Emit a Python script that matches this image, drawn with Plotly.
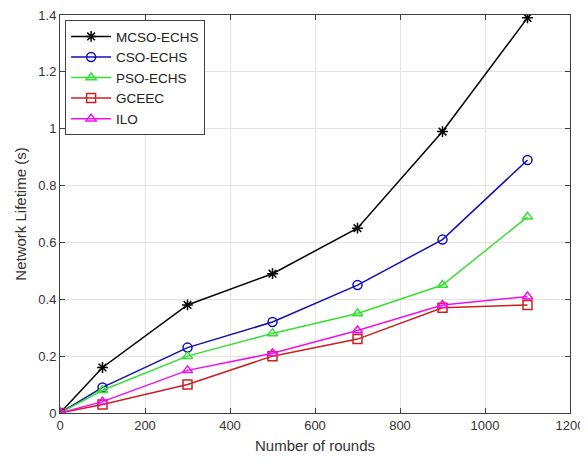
import plotly.graph_objects as go

rounds = [0, 100, 300, 500, 700, 900, 1100]
mcso_echs = [0, 0.16, 0.38, 0.49, 0.65, 0.99, 1.39]
cso_echs = [0, 0.09, 0.23, 0.32, 0.45, 0.61, 0.89]
pso_echs = [0, 0.08, 0.20, 0.28, 0.35, 0.45, 0.69]
gceec = [0, 0.03, 0.10, 0.20, 0.26, 0.37, 0.38]
ilo = [0, 0.04, 0.15, 0.21, 0.29, 0.38, 0.41]

series = [
    ("MCSO-ECHS", mcso_echs, "#000000", "asterisk-open"),
    ("CSO-ECHS", cso_echs, "#1010b0", "circle-open"),
    ("PSO-ECHS", pso_echs, "#33e033", "triangle-up-open"),
    ("GCEEC", gceec, "#cc2020", "square-open"),
    ("ILO", ilo, "#ee10ee", "triangle-up-open"),
]

fig = go.Figure()
for name, vals, color, sym in series:
    fig.add_trace(go.Scatter(
        x=rounds, y=vals, name=name, mode="lines+markers",
        line=dict(color=color, width=1.5),
        marker=dict(symbol=sym, size=9, color=color, line=dict(color=color, width=1.5)),
    ))

axis_common = dict(
    showgrid=True, gridcolor="#e3e3e3", gridwidth=1,
    showline=True, linecolor="#404040", linewidth=1, mirror="ticks",
    ticks="inside", ticklen=5, tickcolor="#404040",
    zeroline=False, automargin=False, ticklabeloverflow="allow",
    tickfont=dict(family="Liberation Sans, Arial", size=13, color="#333333"),
)

# page body has an 8px margin, so the figure is sized to fit inside the window
fig.update_layout(
    width=580, height=459,
    margin=dict(l=52, r=18, t=7, b=54),
    paper_bgcolor="white", plot_bgcolor="white",
    font=dict(family="Liberation Sans, Arial", size=13, color="#333333"),
    xaxis=dict(range=[0, 1200], dtick=200, tick0=0,
               title=dict(text="Number of rounds", standoff=8,
                          font=dict(size=15, color="#333333")),
               **axis_common),
    yaxis=dict(range=[0, 1.4], dtick=0.2, tick0=0,
               title=dict(text="Network Lifetime (s)", standoff=8,
                          font=dict(size=15, color="#333333")),
               **axis_common),
    legend=dict(x=0.01, y=0.987, xanchor="left", yanchor="top",
                bgcolor="white", bordercolor="#404040", borderwidth=1,
                font=dict(size=13.5, color="#222222"),
                tracegroupgap=0, itemwidth=40),
    showlegend=True,
)

fig.write_html("out.html")
